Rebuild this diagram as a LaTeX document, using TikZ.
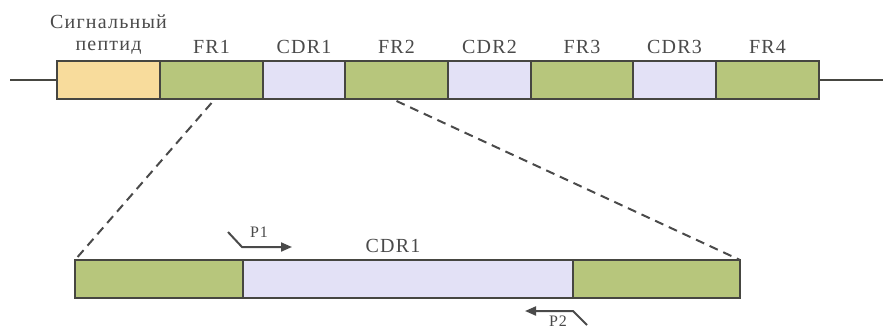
\documentclass[tikz,border=0pt]{standalone}
\usepackage{fontspec}
\setmainfont{Liberation Serif}[LetterSpace=6]
\usetikzlibrary{arrows.meta, positioning}
\definecolor{segborder}{HTML}{464641}
\definecolor{segsig}{HTML}{F8DC9C}
\definecolor{segfr}{HTML}{B7C67C}
\definecolor{segcdr}{HTML}{E3E1F6}
\definecolor{labelgray}{HTML}{4A4A4A}
\tikzset{
  seg/.style={draw=segborder, line width=2.5pt, minimum height=38pt, inner sep=0pt, outer sep=0pt},
  sigbox/.style={seg, fill=segsig},
  frbox/.style={seg, fill=segfr},
  cdrbox/.style={seg, fill=segcdr},
  seglabel/.style={text=labelgray, font=\fontsize{20}{22}\selectfont, align=center},
  primerlabel/.style={text=labelgray, font=\fontsize{16}{18}\selectfont},
  primer/.style={draw=labelgray, line width=2pt, -{Triangle[length=11pt,width=9pt]}},
  zoomline/.style={draw=labelgray, line width=2pt, dash pattern=on 9pt off 6pt}
}

\begin{document}
\begin{tikzpicture}[x=1pt,y=-1pt]
    \useasboundingbox (0,0) rectangle (883,330);
    % upper chain of regions
    \node[sigbox, minimum width=103pt] (sig) at (108.5,80) {};
    \node[frbox, minimum width=103pt, right=0pt of sig] (fr1) {};
    \node[cdrbox, minimum width=82pt, right=0pt of fr1] (cdr1) {};
    \node[frbox, minimum width=103pt, right=0pt of cdr1] (fr2) {};
    \node[cdrbox, minimum width=83pt, right=0pt of fr2] (cdr2) {};
    \node[frbox, minimum width=102pt, right=0pt of cdr2] (fr3) {};
    \node[cdrbox, minimum width=83pt, right=0pt of fr3] (cdr3) {};
    \node[frbox, minimum width=103pt, right=0pt of cdr3] (fr4) {};
    \node[seglabel, above=3pt of sig] (siglab) {Сигнальный\\пептид};
    \foreach \n/\t in {fr1/FR1,cdr1/CDR1,fr2/FR2,cdr2/CDR2,fr3/FR3,cdr3/CDR3,fr4/FR4}
      \node[seglabel, above=4pt of \n] (\n lab) {\t};
    \coordinate (lend) at (10,80);
    \coordinate (rend) at (883,80);
    \draw[segborder, line width=1.5pt] (lend) -- (sig.west);
    \draw[segborder, line width=1.5pt] (fr4.east) -- (rend);

    % enlarged fragment
    \node[frbox, minimum width=168pt] (lowfra) at (159,279) {};
    \node[cdrbox, minimum width=330pt, right=0pt of lowfra] (lowcdr) {};
    \node[frbox, minimum width=167pt, right=0pt of lowcdr] (lowfrb) {};
    \node[seglabel] (lowlab) at (393,246) {CDR1};
    \draw[zoomline] ([yshift=-4pt]fr1.south) -- (lowfra.north west);
    \draw[zoomline] ([yshift=-2pt]fr2.south) -- (lowfrb.north east);

    % primers
    \coordinate (p1a) at (228,232);
    \coordinate (p1b) at (242,247);
    \coordinate (p1c) at (292,247);
    \draw[primer] (p1a) -- (p1b) -- (p1c);
    \node[primerlabel] (p1lab) at (259,232) {P1};
    \coordinate (p2a) at (587,325);
    \coordinate (p2b) at (573,311);
    \coordinate (p2c) at (525,311);
    \draw[primer] (p2a) -- (p2b) -- (p2c);
    \node[primerlabel] (p2lab) at (558,321) {P2};
\end{tikzpicture}
\end{document}
